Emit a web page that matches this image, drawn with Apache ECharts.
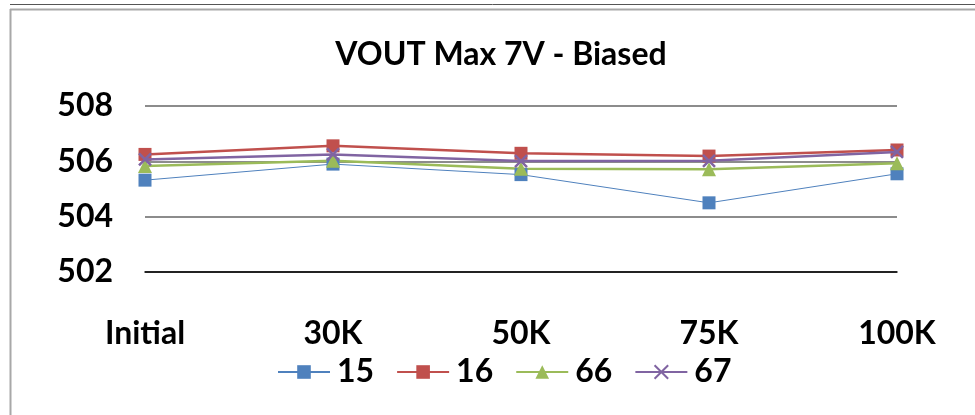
<!DOCTYPE html>
<html>
<head>
<meta charset="utf-8">
<script src="https://cdn.jsdelivr.net/npm/echarts@6/dist/echarts.min.js"></script>
<style>
	html, body { margin: 0; padding: 0; background: #fff; }
	#chart { width: 975px; height: 415px; }
</style>
</head>
<body>
<div id="chart"></div>
<script>
// categories and readings
const categories = ['Initial', '30K', '50K', '75K', '100K'];
const s15 = [505.32, 505.9, 505.52, 504.5, 505.55];
const s16 = [506.25, 506.56, 506.29, 506.19, 506.41];
const s66 = [505.83, 506.02, 505.73, 505.71, 505.93];
const s67 = [506.07, 506.25, 506.01, 506.02, 506.34];

const fontFamily = 'Lato, "Liberation Sans", sans-serif';
const fontSize = 32;
const chart = echarts.init(document.getElementById('chart'), null, { renderer: 'canvas' });

// square / triangle marker series
function lineSeries(name, data, color, symbol, width, size) {
	return {
		name: name,
		type: 'line',
		data: data,
		symbol: symbol,
		symbolSize: size,
		showAllSymbol: true,
		lineStyle: { color: color, width: width },
		itemStyle: { color: color },
		emphasis: { disabled: true },
		z: 3
	};
}

const crossPath = 'path://M0,0L10,10M10,0L0,10';

chart.setOption({
	animation: false,
	color: ['#4F81BD', '#C0504D', '#9BBB59', '#8064A2'],
	title: {
		text: 'VOUT Max 7V - Biased',
		left: 496,
		textAlign: 'center',
		top: 34,
		textStyle: { fontFamily, fontSize, fontWeight: 'bold', color: '#000' }
	},
	grid: { left: 145, right: 78, top: 106, bottom: 143 },
	xAxis: {
		type: 'category',
		data: categories,
		boundaryGap: false,
		axisLine: { lineStyle: { color: '#000', width: 1.5 } },
		axisTick: { show: false },
		axisLabel: { margin: 46, fontFamily, fontSize, fontWeight: 'bold', color: '#000' },
		splitLine: { show: false }
	},
	yAxis: {
		type: 'value',
		min: 502,
		max: 508,
		interval: 2,
		axisLine: { show: false },
		axisTick: { show: false },
		axisLabel: { margin: 32, fontFamily, fontSize, fontWeight: 'bold', color: '#000' },
		splitLine: { lineStyle: { color: '#8c8c8c', width: 2 } }
	},
	legend: {
		top: 351,
		left: 272,
		itemWidth: 52,
		itemHeight: 17,
		itemGap: 22,
		textStyle: { fontFamily, fontSize, fontWeight: 'bold', color: '#000', padding: [0, 0, 0, 2] },
		data: ['15', '16', '66', '67']
	},
	graphic: [
		{ type: 'line', shape: { x1: 10, y1: 4.5, x2: 975, y2: 4.5 }, style: { stroke: '#555', lineWidth: 1 } },
		{ type: 'line', shape: { x1: 10, y1: 9.5, x2: 975, y2: 9.5 }, style: { stroke: '#a8a8a8', lineWidth: 2 } },
		{ type: 'line', shape: { x1: 10.5, y1: 9, x2: 10.5, y2: 415 }, style: { stroke: '#a8a8a8', lineWidth: 2 } }
	],
	series: [
		lineSeries('15', s15, '#4F81BD', 'rect', 1, 13),
		lineSeries('16', s16, '#C0504D', 'rect', 2.5, 13),
		lineSeries('66', s66, '#9BBB59', 'triangle', 2.5, 14),
		{
			name: '67',
			type: 'line',
			data: s67,
			symbol: crossPath,
			symbolSize: 12,
			lineStyle: { color: '#8064A2', width: 2.5 },
			itemStyle: { color: 'none', borderColor: '#8064A2', borderWidth: 2.5 },
			emphasis: { disabled: true },
			z: 4
		}
	]
});
</script>
</body>
</html>
